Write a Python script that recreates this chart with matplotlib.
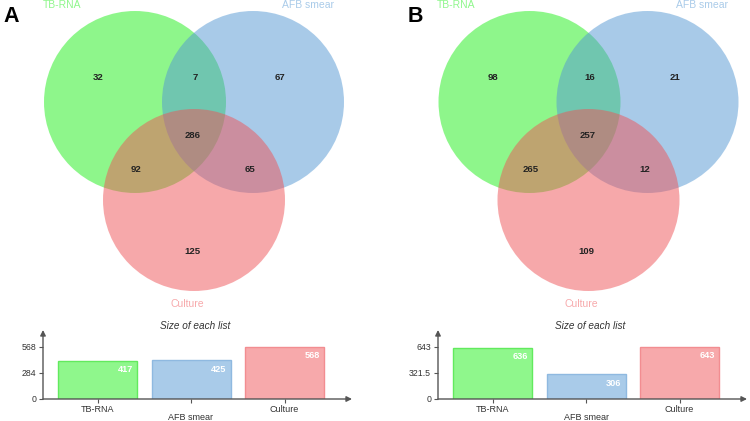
import matplotlib
matplotlib.use('Agg')
import matplotlib.pyplot as plt
from matplotlib.patches import Circle
import matplotlib.transforms as mtransforms

plt.rcParams['font.family'] = ['Liberation Sans', 'DejaVu Sans']

# ---------------- data ----------------
set_names = ['TB-RNA', 'AFB smear', 'Culture']
# region order: only TB-RNA, TB-RNA&AFB, only AFB, all three, TB-RNA&Culture, AFB&Culture, only Culture
region_keys = ['1', '12', '2', '123', '13', '23', '3']
regions_A = [32, 7, 67, 286, 92, 65, 125]
regions_B = [98, 16, 21, 257, 265, 12, 109]
sizes_A = [417, 425, 568]
sizes_B = [636, 306, 643]
yticks_A = [0, 284, 568]
yticks_B = [0, 321.5, 643]
panel_labels = ['A', 'B']

# ---------------- styling ----------------
venn_base = ['#1fef19', '#5397d3', '#ef5357']
set_label_colors = ['#8ff78c', '#a9cbe9', '#f7a9ab']
bar_face = ['#8ff78c', '#a9cbe9', '#f7a9ab']
bar_edge = ['#62ea5e', '#8fb9e0', '#f28d91']
axis_col = '#555555'

W, H = 750, 421
fig = plt.figure(figsize=(7.5, 4.21), dpi=100)
bg = fig.add_axes([0, 0, 1, 1])
bg.set_xlim(0, W)
bg.set_ylim(H, 0)
bg.axis('off')

circle_centers = [(135, 102), (253, 102), (194, 200)]
radius = 91
region_pos = {'1': (98, 78), '12': (195, 78), '2': (280, 78), '123': (193, 135),
              '13': (136, 169), '23': (250, 169), '3': (192, 252)}
set_label_pos = [(62, 5), (308, 5), (187, 304)]


def draw_venn(dx, regions):
    for (cx, cy), col in zip(circle_centers, venn_base):
        bg.add_patch(Circle((cx + dx, cy), radius, facecolor=col, alpha=0.5,
                            edgecolor='none'))
    for key, val in zip(region_keys, regions):
        x, y = region_pos[key]
        bg.text(x + dx, y, str(val), ha='center', va='center', fontsize=6.8,
                fontweight='bold', color='#222222')
    for name, (x, y), col in zip(set_names, set_label_pos, set_label_colors):
        bg.text(x + dx, y, name, ha='center', va='center', fontsize=7.5, color=col)


draw_venn(0, regions_A)
draw_venn(394.5, regions_B)
bg.text(3, 16, panel_labels[0], ha='left', va='center', fontsize=15.5, fontweight='bold')
bg.text(408, 16, panel_labels[1], ha='left', va='center', fontsize=15.5, fontweight='bold')


def draw_bars(left_px, sizes, yticks):
    right_px = left_px + 309
    base_px, top_px = 399, 330
    rect = [left_px / W, (H - base_px) / H, (right_px - left_px) / W, (base_px - top_px) / H]
    ax = fig.add_axes(rect)
    ax.patch.set_alpha(0)
    spacing = 93.5
    ax.set_xlim(-54.5 / spacing, (309 - 54.5) / spacing)
    ymax = yticks[-1]
    ax.set_ylim(0, ymax * 69 / 52)
    xs = list(range(len(sizes)))
    w = 79 / spacing
    ax.bar(xs, sizes, width=w, color=bar_face, edgecolor=bar_edge, linewidth=1)
    for s in ax.spines.values():
        s.set_visible(False)
    ax.annotate('', xy=(1, 0), xytext=(0, 0), xycoords='axes fraction',
                arrowprops=dict(arrowstyle='-|>', color=axis_col, lw=1, mutation_scale=8,
                                shrinkA=0, shrinkB=0))
    ax.annotate('', xy=(0, 1), xytext=(0, 0), xycoords='axes fraction',
                arrowprops=dict(arrowstyle='-|>', color=axis_col, lw=1, mutation_scale=8,
                                shrinkA=0, shrinkB=0))
    ax.set_yticks(yticks)
    ax.set_yticklabels([f'{v:g}' for v in yticks])
    ax.set_xticks(xs)
    ax.set_xticklabels([])
    ax.tick_params(axis='both', direction='out', length=3, color=axis_col, width=0.8,
                   labelsize=6.3, labelcolor='#333333', pad=2)
    offsets = [-11, -18, -11]
    for i, name in enumerate(set_names):
        ax.annotate(name, xy=(i, 0), xycoords=('data', 'axes fraction'),
                    xytext=(0, offsets[i]), textcoords='offset pixels',
                    ha='center', va='center', fontsize=6.5, color='#333333')
    for i, v in enumerate(sizes):
        ax.annotate(str(v), xy=(i + w / 2, v), xytext=(-4, -9), textcoords='offset pixels',
                    ha='right', va='center', fontsize=6.6, fontweight='bold', color='white')
    trans = mtransforms.blended_transform_factory(ax.transData, ax.transAxes)
    ax.text(1.04, 73 / 69, 'Size of each list', transform=trans, ha='center', va='center',
            fontsize=7.2, style='italic', color='#333333')
    return ax


draw_bars(43, sizes_A, yticks_A)
draw_bars(438, sizes_B, yticks_B)

fig.savefig('out.png', dpi=100)
